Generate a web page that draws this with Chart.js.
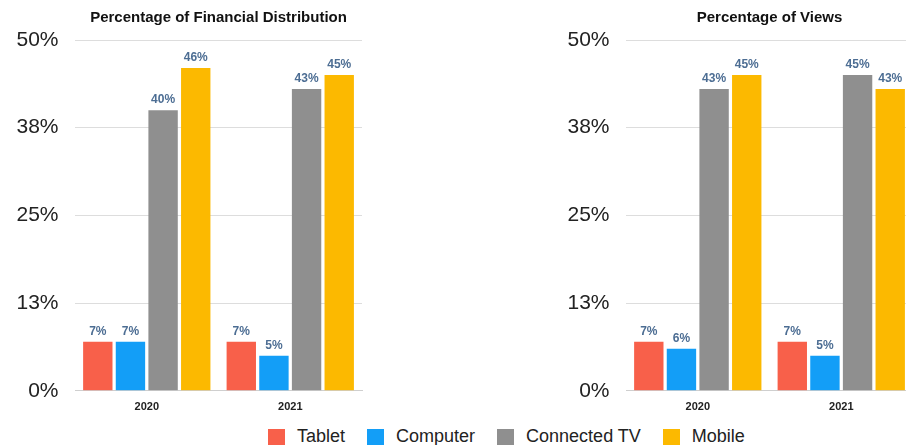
<!DOCTYPE html>
<html>
<head>
<meta charset="utf-8">
<script src="https://cdn.jsdelivr.net/npm/chart.js@4.4.1/dist/chart.umd.min.js"></script>
<style>
  html, body { margin: 0; padding: 0; background: #fff; }
  body { width: 906px; height: 445px; overflow: hidden; position: relative; font-family: "Liberation Sans", Arial, sans-serif; }
  .panel { position: absolute; top: 0; width: 400px; height: 424px; }
  #legend { position: absolute; top: 426px; left: 268px; display: flex; align-items: center; font-size: 18px; color: #222; white-space: nowrap; }
  #legend .item { display: flex; align-items: center; margin-right: 22px; }
  #legend .swatch { width: 17px; height: 16px; margin-right: 12px; }
</style>
</head>
<body>
<div class="panel" style="left:0"><canvas id="financeChart"></canvas></div>
<div class="panel" style="left:551px"><canvas id="viewsChart"></canvas></div>
<div id="legend"></div>

<script>
// --- data ---
const years = ['2020', '2021'];
const seriesNames = ['Tablet', 'Computer', 'Connected TV', 'Mobile'];
const seriesColors = ['#f8604a', '#139ef7', '#8f8f8f', '#fcb900'];
const yTickLabels = ['0%', '13%', '25%', '38%', '50%'];

// financial distribution, percent
const financeTablet = [7, 7];
const financeComputer = [7, 5];
const financeTV = [40, 43];
const financeMobile = [46, 45];

// views, percent
const viewsTablet = [7, 7];
const viewsComputer = [6, 5];
const viewsTV = [43, 45];
const viewsMobile = [45, 43];

const FONT = '"Liberation Sans", Arial, sans-serif';

// --- value labels above the bars ---
const valueLabels = {
    id: 'valueLabels',
    afterDatasetsDraw(chart) {
        const ctx = chart.ctx;
        ctx.save();
        ctx.font = 'bold 12px ' + FONT;
        ctx.fillStyle = '#4c6d93';
        ctx.textAlign = 'center';
        ctx.textBaseline = 'bottom';
        chart.data.datasets.forEach((ds, i) => {
            chart.getDatasetMeta(i).data.forEach((bar, j) => {
                ctx.fillText(ds.data[j] + '%', bar.x, bar.y - 4);
            });
        });
        ctx.restore();
    }
};

function makeChart(id, title, values) {
    return new Chart(document.getElementById(id), {
        type: 'bar',
        data: {
            labels: years,
            datasets: values.map((data, i) => ({
                label: seriesNames[i],
                data: data,
                backgroundColor: seriesColors[i],
                barPercentage: 0.9,
                categoryPercentage: 0.91
            }))
        },
        options: {
            responsive: true,
            maintainAspectRatio: false,
            animation: false,
            layout: { padding: { left: 0, right: 38, bottom: 8 } },
            plugins: {
                legend: { display: false },
                tooltip: { enabled: false },
                title: {
                    display: true,
                    text: title,
                    fullSize: false,
                    color: '#111',
                    font: { family: FONT, size: 15, weight: 'bold' },
                    padding: { top: 9, bottom: 13 }
                }
            },
            scales: {
                x: {
                    grid: { display: false },
                    border: { color: '#cfcfcf' },
                    ticks: {
                        color: '#222',
                        padding: 2,
                        font: { family: FONT, size: 11, weight: 'bold' }
                    }
                },
                y: {
                    min: 0,
                    max: 50,
                    border: { display: false },
                    grid: { color: '#dddddd', drawTicks: false },
                    ticks: {
                        stepSize: 12.5,
                        padding: 16.5,
                        color: '#222',
                        font: { family: FONT, size: 21 },
                        callback: (v, i) => yTickLabels[i]
                    }
                }
            }
        },
        plugins: [valueLabels]
    });
}

makeChart('financeChart', 'Percentage of Financial Distribution',
    [financeTablet, financeComputer, financeTV, financeMobile]);
makeChart('viewsChart', 'Percentage of Views',
    [viewsTablet, viewsComputer, viewsTV, viewsMobile]);

// shared legend under both panels
document.getElementById('legend').innerHTML = seriesNames.map((name, i) =>
    `<div class="item"><span class="swatch" style="background:${seriesColors[i]}"></span>${name}</div>`
).join('');
</script>
</body>
</html>
